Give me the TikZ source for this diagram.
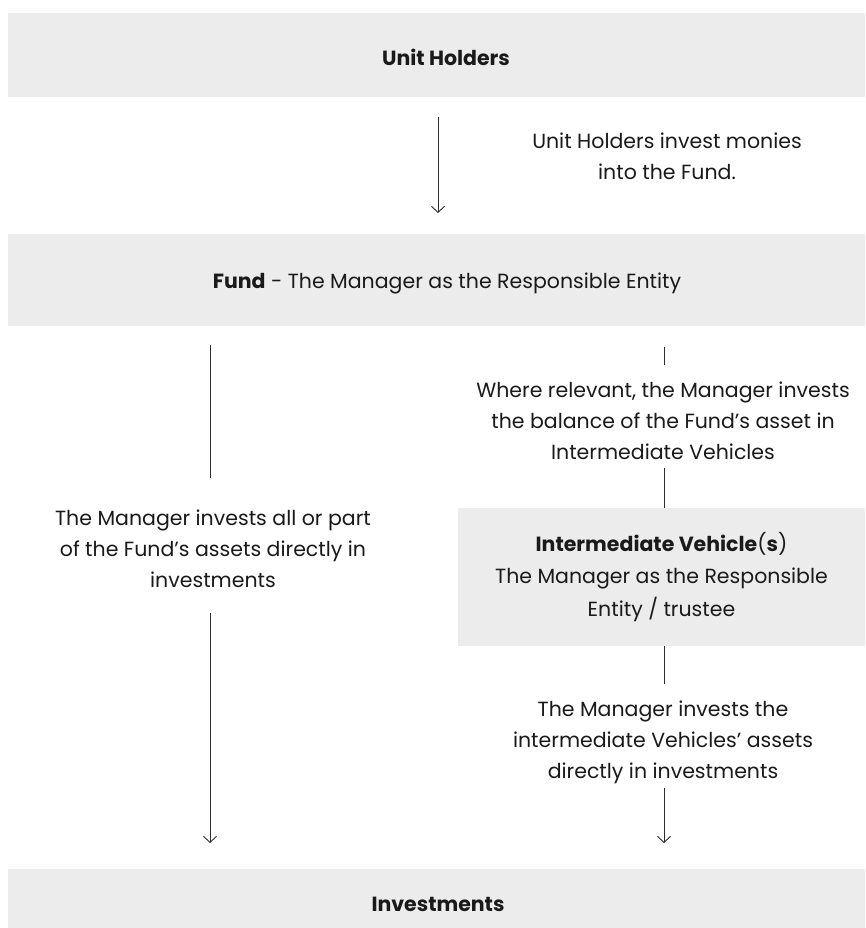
\documentclass[tikz,border=0pt]{standalone}
\usepackage{fontspec}
\setmainfont{Poppins}
\usetikzlibrary{arrows.meta}
\definecolor{boxgray}{HTML}{ECECEC}
\definecolor{ink}{HTML}{1A1A1A}
\definecolor{linec}{HTML}{2E2E2E}
\begin{document}
\begin{tikzpicture}[x=1pt,y=-1pt,
  box/.style={fill=boxgray, draw=none, inner sep=0pt, text=ink},
  body/.style={font=\fontsize{20.5}{31}\selectfont},
  txt/.style={body, align=center, text=ink, inner sep=0pt},
  conn/.style={draw=linec, line width=0.9pt},
  arr/.style={conn, -{Straight Barb[length=6pt,width=13pt,line width=0.9pt]}}]
\useasboundingbox (0,0) rectangle (865,928);
\fill[white] (0,0) rectangle (865,928);
% boxes
\node[box, minimum width=857pt, minimum height=84pt] (uh) at (436.5,55) {};
\node[txt, font=\fontsize{20.5}{31}\selectfont\bfseries] (uht) at (446,57) {Unit Holders};
\node[box, minimum width=857pt, minimum height=92pt] (fund) at (436.5,280) {};
\node[txt] (fundt) at (447,283) {\textbf{Fund} - The Manager as the Responsible Entity};
\node[box, minimum width=407pt, minimum height=138pt, align=center, font=\fontsize{20.5}{32.5}\selectfont] (iv) at (661.5,577) {\textbf{Intermediate Vehicle}(\textbf{s})\\The Manager as the Responsible\\Entity / trustee};
\node[box, minimum width=857pt, minimum height=70pt] (inv) at (436.5,904) {};
\node[txt, font=\fontsize{20.5}{31}\selectfont\bfseries] (invt) at (438,904) {Investments};
% labels
\node[txt] (l1) at (667,156) {Unit Holders invest monies\\into the Fund.};
\node[txt] (l2) at (213,549) {The Manager invests all or part\\of the Fund's assets directly in\\investments};
\node[txt] (l3) at (663,421) {Where relevant, the Manager invests\\the balance of the Fund's asset in\\Intermediate Vehicles};
\node[txt] (l4) at (663,742) {The Manager invests the\\intermediate Vehicles' assets\\directly in investments};
% connector coordinates
\coordinate (a1s) at (438,117); \coordinate (a1e) at (438,213);
\coordinate (b1s) at (210,345); \coordinate (b1e) at (210,478);
\coordinate (b2s) at (210,613); \coordinate (b2e) at (210,843);
\coordinate (c1s) at (664,347); \coordinate (c1e) at (664,365);
\coordinate (c2s) at (664,468);
\coordinate (c3e) at (664,684);
\coordinate (c4s) at (664,788); \coordinate (c4e) at (664,843);
\draw[arr] (a1s) -- (a1e);
\draw[conn] (b1s) -- (b1e);
\draw[arr] (b2s) -- (b2e);
\draw[conn] (c1s) -- (c1e);
\draw[conn] (c2s) -- (iv.north -| c2s);
\draw[conn] (iv.south -| c3e) -- (c3e);
\draw[arr] (c4s) -- (c4e);
\end{tikzpicture}
\end{document}
